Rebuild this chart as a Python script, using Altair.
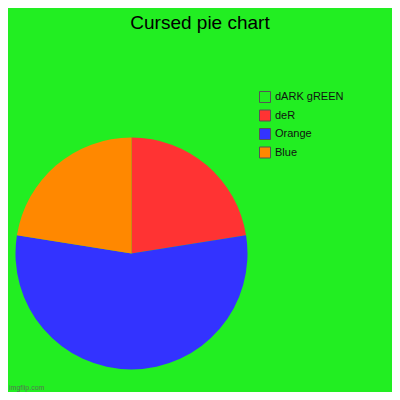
import altair as alt
import pandas as pd

categories = ["dARK gREEN", "deR", "Orange", "Blue"]
values = [0, 9, 22, 9]
colors = ["#22EE22", "#FF3333", "#3333FF", "#FF8800"]
order = [0, 1, 2, 3]
watermark = ["imgflip.com"]

df = pd.DataFrame({"category": categories, "value": values, "order": order})

BG = "#22EE22"

pie = alt.Chart(df).mark_arc(radius=116, stroke=None).encode(
    theta=alt.Theta("value:Q", stack=True),
    order=alt.Order("order:Q"),
    x=alt.value(123.5),
    y=alt.value(205.5),
    color=alt.Color(
        "category:N",
        scale=alt.Scale(domain=categories, range=colors),
        legend=alt.Legend(
            title=None,
            orient="none",
            legendX=251,
            legendY=43,
            symbolType="square",
            symbolSize=121,
            symbolStrokeColor="#555555",
            symbolStrokeWidth=1,
            symbolOpacity=1,
            labelFontSize=11,
            labelFont="Liberation Sans",
            labelColor="#111111",
            rowPadding=2.5,
            labelOffset=4,
        ),
    ),
)

wm = alt.Chart(pd.DataFrame({"t": watermark})).mark_text(
    align="left", baseline="alphabetic", fontSize=7, color="#557755", font="Liberation Sans"
).encode(text="t:N", x=alt.value(1), y=alt.value(342))

chart = alt.layer(pie, wm).properties(
    width=384,
    height=344,
    padding={"left": 0, "top": 40, "right": 0, "bottom": 0},
    autosize=alt.AutoSizeParams(type="none"),
    title=alt.TitleParams(
        "Cursed pie chart",
        fontSize=19,
        font="Liberation Sans",
        fontWeight="normal",
        color="#000000",
        anchor="middle",
        offset=15,
    ),
).configure(background=BG).configure_view(stroke=None)

chart.save("out.html", embed_options={"renderer": "svg", "actions": False})
